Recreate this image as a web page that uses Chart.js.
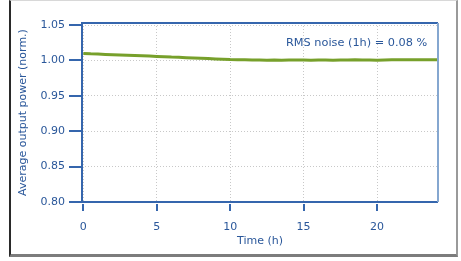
<!DOCTYPE html>
<html>
<head>
<meta charset="utf-8">
<script src="https://cdn.jsdelivr.net/npm/chart.js@4/dist/chart.umd.min.js"></script>
<style>
  body { margin: 0; background: #fff; }
  #frame {
    position: absolute; left: 9px; top: 0; width: 445px; height: 253px;
    border-left: 2px solid #2a2a2a; border-top: 1px solid #d8d8d8;
    border-right: 2px solid #9a9a9a; border-bottom: 3px solid #7c7c7c;
  }
  #c { position: absolute; left: 0; top: 0; }
</style>
</head>
<body>
<div id="frame"></div>
<canvas id="c" width="461" height="261"></canvas>
<script>
// time (h) and normalised average output power
var hours = [0, 0.5, 1, 1.5, 2, 2.5, 3, 3.5, 4, 4.5, 5, 5.5, 6, 6.5, 7, 7.5, 8, 8.5, 9, 9.5,
             10, 10.5, 11, 11.5, 12, 12.5, 13, 13.5, 14, 14.5, 15, 15.5, 16, 16.5, 17, 17.5,
             18, 18.5, 19, 19.5, 20, 20.5, 21, 21.5, 22, 22.5, 23, 23.5, 24, 24.15];
var power = [1.0100, 1.0094, 1.0091, 1.0086, 1.0082, 1.0079, 1.0074, 1.0071, 1.0066, 1.0062,
             1.0058, 1.0054, 1.0048, 1.0045, 1.0040, 1.0035, 1.0031, 1.0027, 1.0022, 1.0018,
             1.0013, 1.0011, 1.0009, 1.0006, 1.0007, 1.0005, 1.0006, 1.0004, 1.0006, 1.0008,
             1.0007, 1.0005, 1.0008, 1.0007, 1.0005, 1.0006, 1.0008, 1.0009, 1.0007, 1.0006,
             1.0005, 1.0008, 1.0009, 1.0010, 1.0011, 1.0009, 1.0010, 1.0011, 1.0010, 1.0009];
var yTicks = [0.80, 0.85, 0.90, 0.95, 1.00, 1.05];
var xTicks = [0, 5, 10, 15, 20];
var noteText = 'RMS noise (1h) = 0.08 %';

var blue = '#3566ad';
var textBlue = '#2a579a';
var font = { family: 'DejaVu Sans', size: 11 };

var points = hours.map(function (h, i) { return { x: h, y: power[i] }; });

var framePlugin = {
  id: 'frame',
  afterDraw: function (chart) {
    var a = chart.chartArea, ctx = chart.ctx;
    var sx = chart.scales.x, sy = chart.scales.y;
    ctx.save();
    ctx.setLineDash([]);
    ctx.lineWidth = 2;
    ctx.strokeStyle = blue;
    ctx.beginPath();
    ctx.moveTo(a.right, a.top); ctx.lineTo(a.left, a.top);
    ctx.lineTo(a.left, a.bottom); ctx.lineTo(a.right, a.bottom);
    ctx.stroke();
    ctx.strokeStyle = '#85a7d0';
    ctx.beginPath();
    ctx.moveTo(a.right, a.top); ctx.lineTo(a.right, a.bottom);
    ctx.stroke();
    // tick marks outside the plot box
    ctx.strokeStyle = blue;
    ctx.lineWidth = 2;
    ctx.beginPath();
    yTicks.forEach(function (v) {
      var py = Math.round(sy.getPixelForValue(v));
      ctx.moveTo(a.left - 13, py); ctx.lineTo(a.left - 1, py);
    });
    xTicks.forEach(function (v) {
      var px = Math.round(sx.getPixelForValue(v));
      ctx.moveTo(px, a.bottom + 2); ctx.lineTo(px, a.bottom + 9);
    });
    ctx.stroke();
    // annotation
    var x = sx.getPixelForValue(23.42);
    var y = sy.getPixelForValue(1.0243);
    ctx.fillStyle = textBlue;
    ctx.font = '11.3px "DejaVu Sans"';
    ctx.textAlign = 'right';
    ctx.textBaseline = 'middle';
    ctx.fillText(noteText, x, y);
    ctx.restore();
  }
};

new Chart(document.getElementById('c'), {
  type: 'scatter',
  data: {
    datasets: [{
      data: points,
      showLine: true,
      borderColor: '#77a02b',
      borderWidth: 3,
      pointRadius: 0,
      tension: 0
    }]
  },
  options: {
    responsive: false,
    animation: false,
    devicePixelRatio: 1,
    layout: { padding: { top: 23, right: 23, left: 0, bottom: 0 } },
    plugins: { legend: { display: false }, tooltip: { enabled: false } },
    scales: {
      x: {
        type: 'linear',
        min: -0.09, max: 24.15,
        afterFit: function (s) { s.height = 59; },
        afterBuildTicks: function (s) { s.ticks = xTicks.map(function (v) { return { value: v }; }); },
        ticks: { color: textBlue, font: font, padding: 10, maxRotation: 0 },
        grid: { color: '#c8c8c8', tickColor: 'rgba(0,0,0,0)', tickLength: 9, lineWidth: 1 },
        border: { display: false, dash: [1, 2] },
        title: { display: true, text: 'Time (h)', color: textBlue, font: font, padding: { top: 0, bottom: 13 } }
      },
      y: {
        min: 0.80, max: 1.053,
        afterFit: function (s) { s.width = 82; },
        afterBuildTicks: function (s) { s.ticks = yTicks.map(function (v) { return { value: v }; }); },
        ticks: { color: textBlue, font: font, padding: 5, callback: function (v) { return v.toFixed(2); } },
        grid: { color: '#c8c8c8', tickColor: 'rgba(0,0,0,0)', tickLength: 12, lineWidth: 1 },
        border: { display: false, dash: [1, 2] },
        title: { display: true, text: 'Average output power (norm.)', color: textBlue, font: font, padding: { top: 17, bottom: 0 } }
      }
    }
  },
  plugins: [framePlugin]
});
</script>
</body>
</html>
